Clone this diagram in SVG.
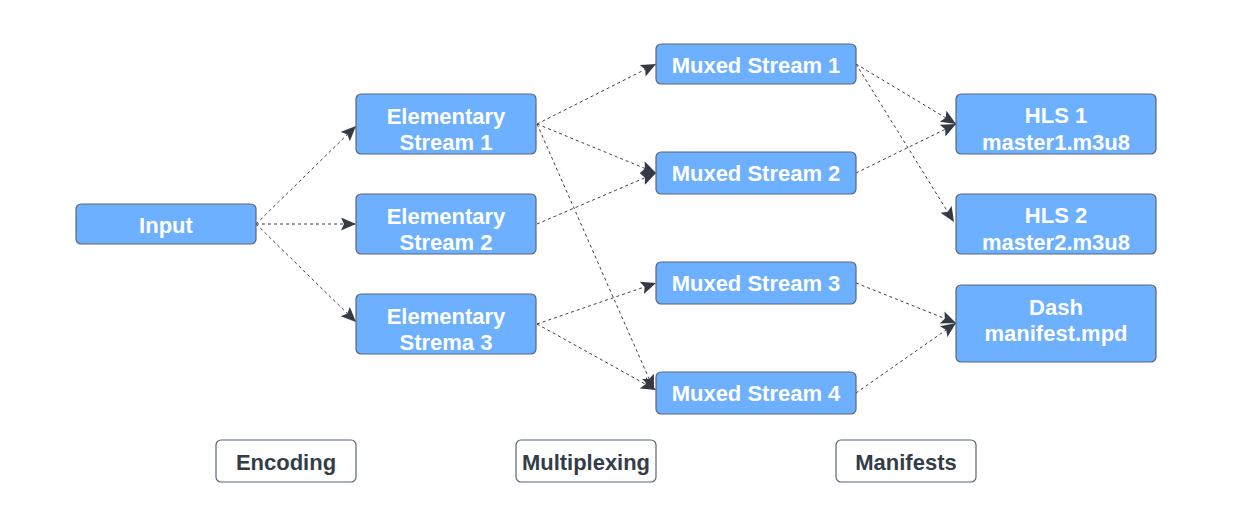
<svg xmlns="http://www.w3.org/2000/svg" width="1233" height="526" viewBox="0 0 1233 526">
<style>
.n rect{fill:#6cb0ff;stroke:#5b6675;stroke-width:1.2}
.n text{fill:#fff;font-family:"Liberation Sans",Arial,sans-serif;font-weight:bold;font-size:22px;text-anchor:middle}
.l rect{fill:#fff;stroke:#5b6675;stroke-width:1.2}
.l text{fill:#333d49;font-family:"Liberation Sans",Arial,sans-serif;font-weight:bold;font-size:22px;text-anchor:middle}
.c line{stroke:#3a414b;stroke-width:1;stroke-dasharray:3,3;fill:none;marker-end:url(#ah)}
</style>
<defs>
<marker id="ah" markerUnits="userSpaceOnUse" markerWidth="16" markerHeight="14" refX="15" refY="6.5" orient="auto" viewBox="0 0 16 14">
<path d="M0,0 L15,6.5 L0,13 L3,6.5 z" fill="#353b44"/>
</marker>
</defs>
<rect width="1233" height="526" fill="#fff"/>
<g id="connectors" class="c">
<line x1="256" y1="224" x2="356" y2="126"/>
<line x1="256" y1="224" x2="356" y2="224"/>
<line x1="256" y1="224" x2="356" y2="322"/>
<line x1="537" y1="124" x2="656" y2="64"/>
<line x1="537" y1="124" x2="656" y2="173"/>
<line x1="537" y1="124" x2="654" y2="390"/>
<line x1="537" y1="224" x2="656" y2="173"/>
<line x1="537" y1="324" x2="656" y2="283"/>
<line x1="537" y1="324" x2="656" y2="390"/>
<line x1="856" y1="64" x2="956" y2="124"/>
<line x1="856" y1="64" x2="954" y2="222"/>
<line x1="856" y1="173" x2="956" y2="124"/>
<line x1="856" y1="283" x2="956" y2="323"/>
<line x1="856" y1="393" x2="956" y2="323"/>
</g>
<g id="input" class="n"><rect x="76" y="204" width="180" height="40" rx="5"/><text x="166" y="233">Input</text></g>
<g id="es1" class="n"><rect x="356" y="94" width="180" height="60" rx="5"/><text x="446" y="124">Elementary</text><text x="446" y="150">Stream 1</text></g>
<g id="es2" class="n"><rect x="356" y="194" width="180" height="60" rx="5"/><text x="446" y="224">Elementary</text><text x="446" y="250">Stream 2</text></g>
<g id="es3" class="n"><rect x="356" y="294" width="180" height="60" rx="5"/><text x="446" y="324">Elementary</text><text x="446" y="350">Strema 3</text></g>
<g id="mux1" class="n"><rect x="656" y="44" width="200" height="40" rx="5"/><text x="756" y="73">Muxed Stream 1</text></g>
<g id="mux2" class="n"><rect x="656" y="152" width="200" height="42" rx="5"/><text x="756" y="181">Muxed Stream 2</text></g>
<g id="mux3" class="n"><rect x="656" y="262" width="200" height="42" rx="5"/><text x="756" y="291">Muxed Stream 3</text></g>
<g id="mux4" class="n"><rect x="656" y="372" width="200" height="42" rx="5"/><text x="756" y="401">Muxed Stream 4</text></g>
<g id="hls1" class="n"><rect x="956" y="94" width="200" height="60" rx="5"/><text x="1056" y="123">HLS 1</text><text x="1056" y="150">master1.m3u8</text></g>
<g id="hls2" class="n"><rect x="956" y="194" width="200" height="60" rx="5"/><text x="1056" y="223">HLS 2</text><text x="1056" y="250">master2.m3u8</text></g>
<g id="dash" class="n"><rect x="956" y="285" width="200" height="77" rx="5"/><text x="1056" y="315">Dash</text><text x="1056" y="341">manifest.mpd</text></g>
<g id="lbl-encoding" class="l"><rect x="216" y="440" width="140" height="42" rx="5"/><text x="286" y="470">Encoding</text></g>
<g id="lbl-multiplexing" class="l"><rect x="516" y="440" width="140" height="42" rx="5"/><text x="586" y="470" textLength="128" lengthAdjust="spacingAndGlyphs">Multiplexing</text></g>
<g id="lbl-manifests" class="l"><rect x="836" y="440" width="140" height="42" rx="5"/><text x="906" y="470">Manifests</text></g>
</svg>
